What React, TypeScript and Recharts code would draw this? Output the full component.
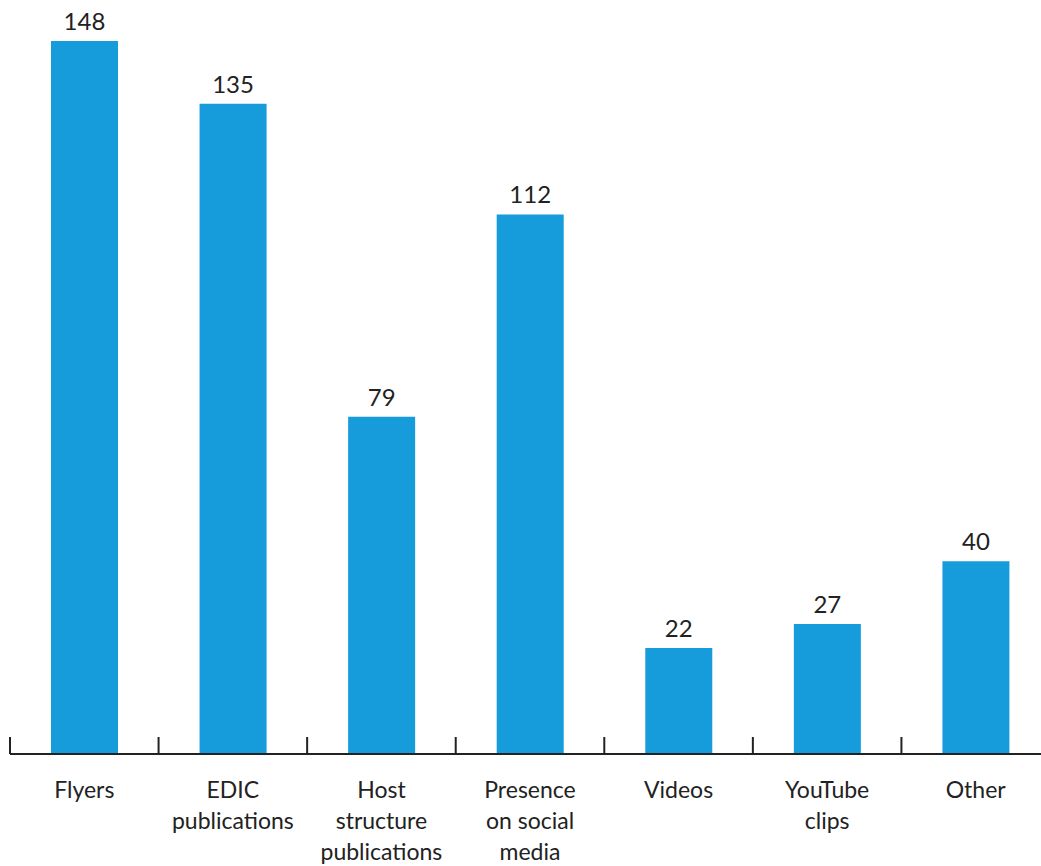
import React from "react";
import { BarChart, Bar, XAxis, YAxis, LabelList } from "recharts";

// categories as printed under the axis ("\n" = line break)
const categories = [
  "Flyers",
  "EDIC\npublications",
  "Host\nstructure\npublications",
  "Presence\non social\nmedia",
  "Videos",
  "YouTube\nclips",
  "Other",
];

// bar heights as drawn in the picture
const barValues = [148, 135, 70, 112, 22, 27, 40];

// numbers printed above the bars
const valueLabels = ["148", "135", "79", "112", "22", "27", "40"];

const data = categories.map((name, i) => ({
  name,
  value: barValues[i],
  label: valueLabels[i],
}));

const FONT = "Lato, 'Open Sans', sans-serif";
const TEXT = "#222222";

// label lines plus a tick mark on the left edge of each category band
const CategoryTick = (props: any) => {
  const { x, y, payload } = props;
  const lines = String(payload.value).split("\n");
  const edge = x - (payload.offset ?? 0);
  return (
    <g>
      <line x1={edge} x2={edge} y1={y} y2={y - 17} stroke={TEXT} strokeWidth={2} />
      <text
        x={x}
        y={y + 44}
        textAnchor="middle"
        fill={TEXT}
        fontSize={23}
        fontFamily={FONT}
      >
        {lines.map((line, i) => (
          <tspan key={i} x={x} dy={i === 0 ? 0 : 31}>
            {line}
          </tspan>
        ))}
      </text>
    </g>
  );
};

export default function App() {
  return (
    <div
      style={{
        position: "absolute",
        left: 0,
        top: 0,
        width: 1041,
        height: 866,
        overflow: "hidden",
        background: "#fff",
      }}
    >
      <BarChart
        width={1060}
        height={866}
        data={data}
        margin={{ top: 41, right: 10, bottom: 0, left: 10 }}
      >
        <YAxis hide domain={[0, 148]} allowDataOverflow />
        <XAxis
          dataKey="name"
          height={112}
          interval={0}
          tickLine={false}
          tickSize={0}
          tickMargin={0}
          axisLine={{ stroke: TEXT, strokeWidth: 2 }}
          tick={<CategoryTick />}
        />
        <Bar dataKey="value" fill="#169cda" barSize={67} isAnimationActive={false}>
          <LabelList
            dataKey="label"
            position="top"
            offset={11}
            fill={TEXT}
            fontSize={24}
            fontFamily={FONT}
          />
        </Bar>
      </BarChart>
    </div>
  );
}
